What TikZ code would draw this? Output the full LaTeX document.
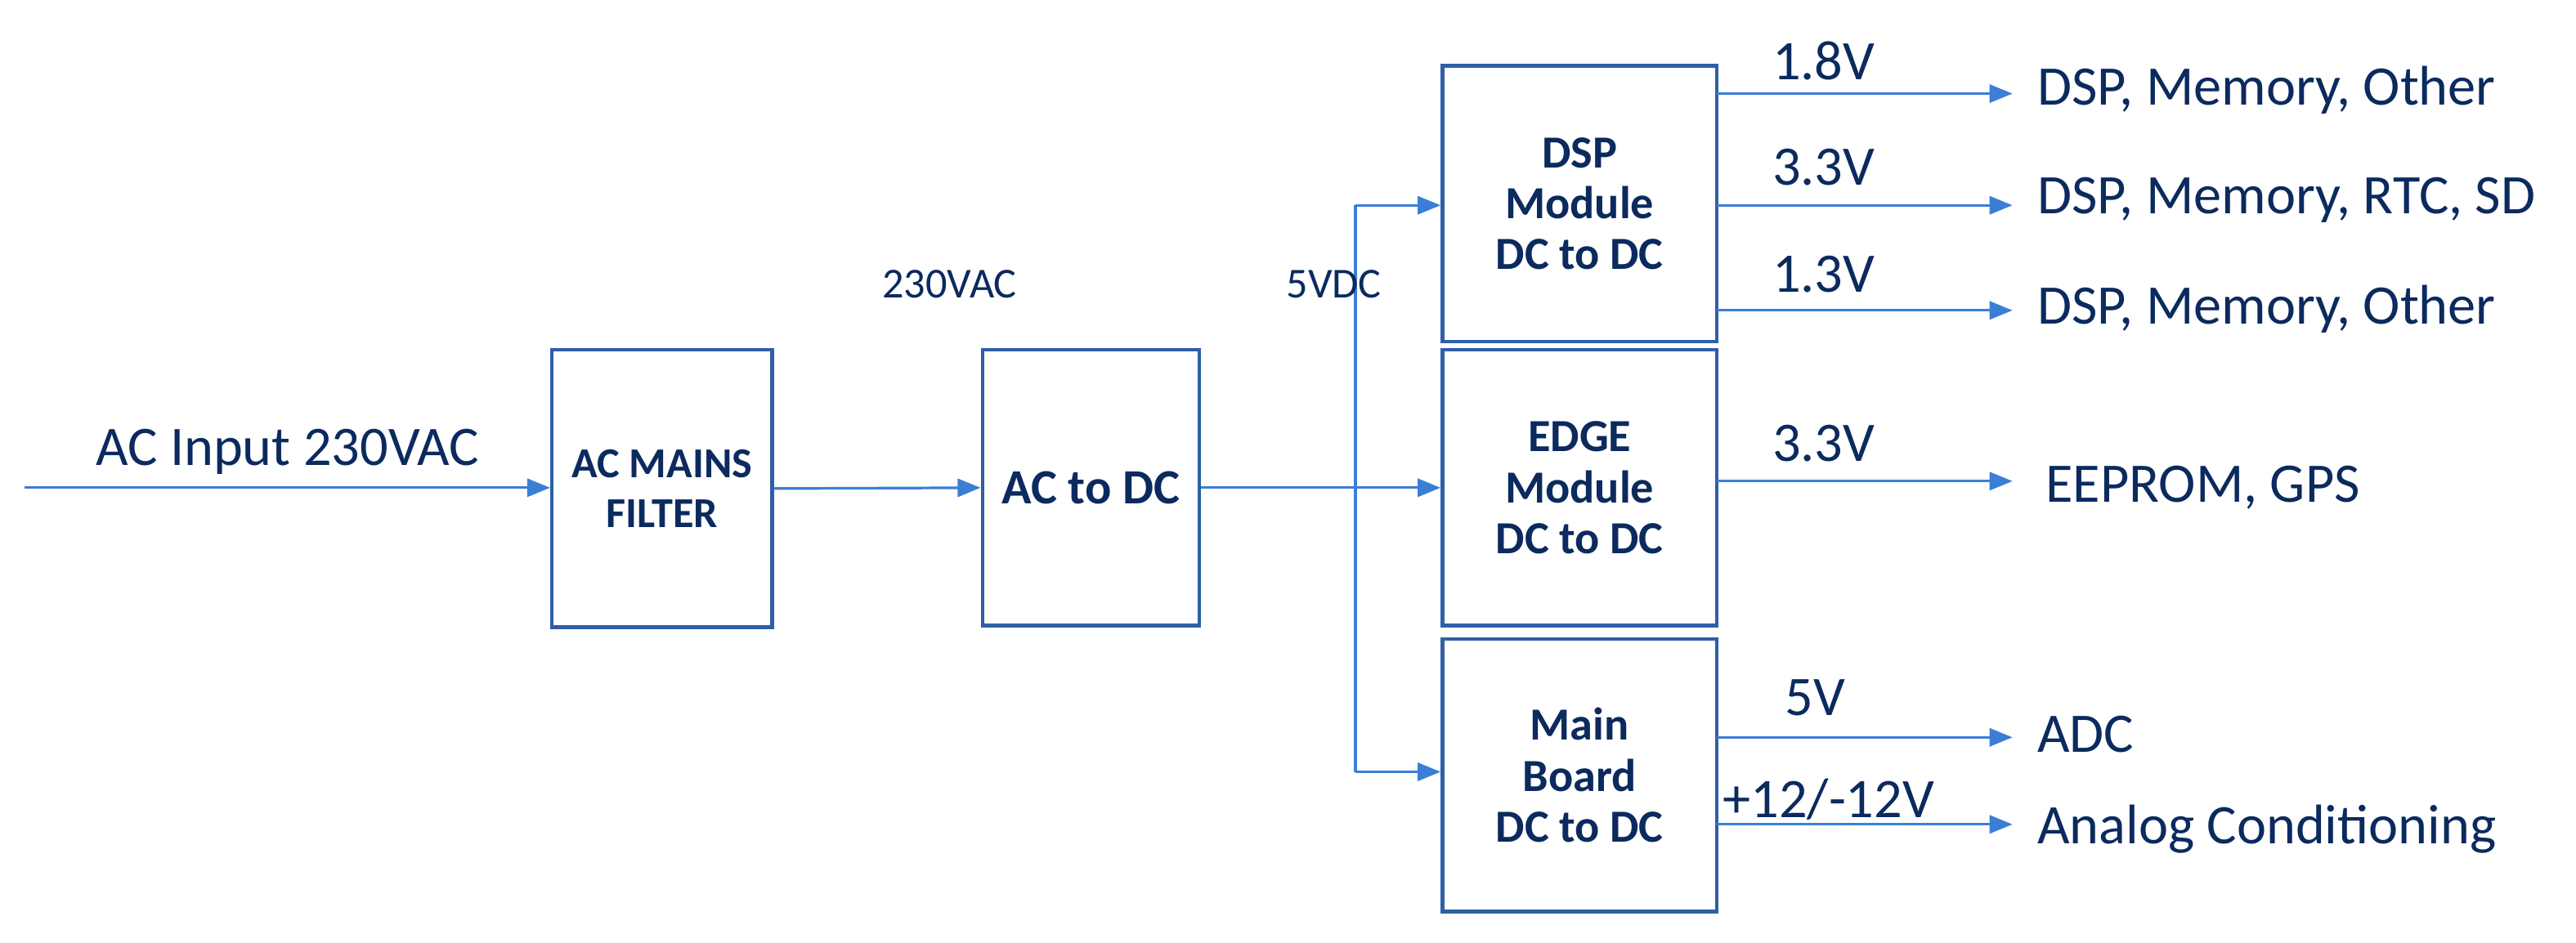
\documentclass[tikz,border=0pt]{standalone}
\usepackage{fontspec}
\setmainfont{Carlito}
\usetikzlibrary{arrows.meta}
\definecolor{boxc}{HTML}{2E5FA8}
\definecolor{linec}{HTML}{3A7FD5}
\definecolor{txt}{HTML}{0B2A5E}
\begin{document}
\begin{tikzpicture}[x=1pt,y=-1pt,
  blk/.style={draw=boxc,line width=2.2pt,minimum width=#1,align=center,font=\fontsize{28}{31}\selectfont\bfseries,text=txt,inner sep=0pt},
  wire/.style={draw=linec,line width=1.6pt},
  arr/.style={wire,-{Triangle[length=14pt,width=11pt]}},
  lab/.style={font=\fontsize{34}{38}\selectfont,text=txt,inner sep=0pt},
  sml/.style={font=\fontsize{26}{30}\selectfont,text=txt,inner sep=0pt}]
\useasboundingbox (0,0) rectangle (1568,574);
\node[blk=134pt,minimum height=169pt,font=\fontsize{26}{30}\selectfont\bfseries] (f) at (403,297.5) {AC MAINS\\FILTER};
\node[blk=132pt,minimum height=168pt,font=\fontsize{30}{33}\selectfont\bfseries] (a) at (664,297) {AC to DC};
\node[blk=167pt,minimum height=168pt] (d) at (961.5,124) {DSP\\Module\\DC to DC};
\node[blk=167pt,minimum height=168pt] (e) at (961.5,297) {EDGE\\Module\\DC to DC};
\node[blk=167pt,minimum height=166pt] (m) at (961.5,472) {Main\\Board\\DC to DC};
\coordinate (in) at (15,297);
\draw[arr] (in) -- (f.west |- in);
\node[lab] at (175,275) {AC Input 230VAC};
\draw[arr] (f.east) -- (a.west);
\node[sml] at (578,173) {230VAC};
\draw[arr] (a.east) -- (e.west);
\coordinate (t) at (825,125);
\coordinate (b) at (825,470);
\draw[wire] (t) -- (b);
\draw[arr] (t) -- (d.west |- t);
\draw[arr] (b) -- (m.west |- b);
\node[sml] at (812,173) {5VDC};
% outputs
\foreach \n/\y/\v/\ly/\t/\ty in {o1/57/1.8V/37/{DSP, Memory, Other}/55,
  o2/125/3.3V/102/{DSP, Memory, RTC, SD}/122,
  o3/189/1.3V/167/{DSP, Memory, Other}/188}{
  \node[lab,anchor=west] (\n) at (1240,\ty) {\t};
  \coordinate (\n s) at (1045,\y);
  \draw[arr] (\n s) -- (1225,\y);
  \node[lab] at (1110,\ly) {\v};
}
\node[lab,anchor=west] (o4) at (1245,297) {EEPROM, GPS};
\coordinate (o4s) at (1045,293);
\draw[arr] (o4s) -- (1225,293);
\node[lab] at (1110,270) {3.3V};
\node[lab,anchor=west] (o5) at (1240,447) {ADC};
\coordinate (o5s) at (1045,449);
\draw[arr] (o5s) -- (1225,449);
\node[lab] at (1105,425) {5V};
\node[lab,anchor=west] (o6) at (1240,505) {Analog Conditioning};
\coordinate (o6s) at (1045,502);
\draw[arr] (o6s) -- (1225,502);
\node[lab] at (1113,487) {+12/-12V};
\end{tikzpicture}
\end{document}
